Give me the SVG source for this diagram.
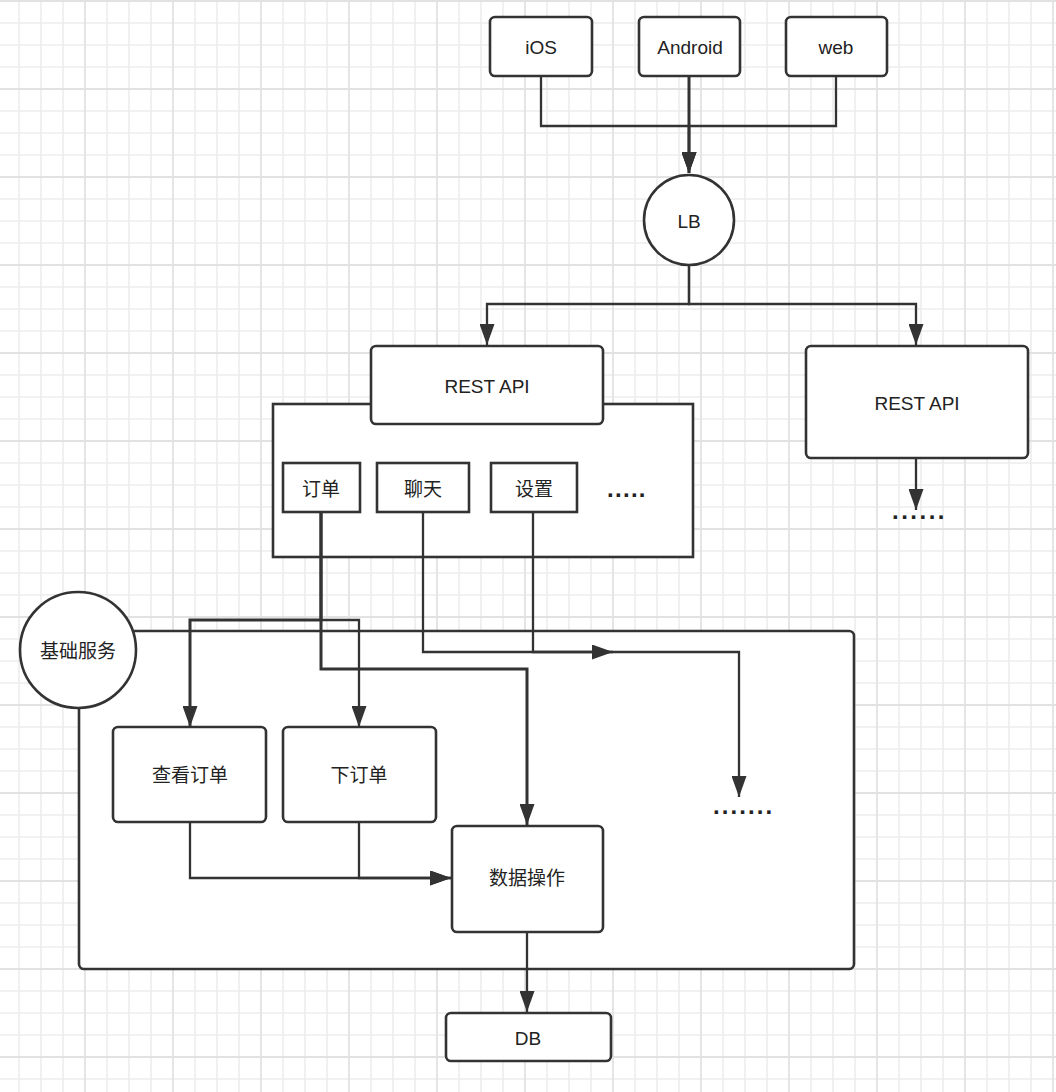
<svg xmlns="http://www.w3.org/2000/svg" width="1056" height="1092" viewBox="0 0 1056 1092">
<style>
.box{fill:#fff;stroke:#333;stroke-width:2.6}
.lbl{font-family:"Liberation Sans","Noto Sans CJK SC",sans-serif;font-size:19px;fill:#222;text-anchor:middle}
.dots{font-family:"Liberation Sans",sans-serif;font-size:24px;font-weight:bold;fill:#222}
.edge{fill:none;stroke:#333;stroke-width:2.3;stroke-linejoin:miter}
.thick{stroke-width:3}
</style>
<defs>
<pattern id="grid" patternUnits="userSpaceOnUse" x="-14" y="-10" width="88" height="88">
<g stroke="#ececec" stroke-width="1.6">
<line x1="33" y1="0" x2="33" y2="88"/><line x1="55" y1="0" x2="55" y2="88"/><line x1="77" y1="0" x2="77" y2="88"/>
<line x1="0" y1="33" x2="88" y2="33"/><line x1="0" y1="55" x2="88" y2="55"/><line x1="0" y1="77" x2="88" y2="77"/>
</g>
<g stroke="#e2e2e2" stroke-width="1.8">
<line x1="11" y1="0" x2="11" y2="88"/><line x1="0" y1="11" x2="88" y2="11"/>
</g>
</pattern>
<marker id="arr" markerUnits="userSpaceOnUse" markerWidth="21" markerHeight="15" refX="21" refY="7.5" orient="auto">
<path d="M0,0 L21,7.5 L0,15 z" fill="#333"/>
</marker>
</defs>
<rect width="1056" height="1092" fill="#fff"/>
<rect width="1056" height="1092" fill="url(#grid)"/>

<g id="api-container"><rect class="box" x="273" y="404" width="420" height="153"/></g>
<g id="service-container"><rect class="box" x="79" y="631" width="775" height="338" rx="5"/></g>

<g id="connectors">
<path class="edge" d="M541,76 V126 H689 V173" marker-end="url(#arr)"/>
<path class="edge" d="M836,76 V126 H689 V173" marker-end="url(#arr)"/>
<path class="edge thick" d="M689,76 V173" marker-end="url(#arr)"/>
<path class="edge" d="M689,265 V304 H487 V345" marker-end="url(#arr)"/>
<path class="edge" d="M689,265 V304 H916 V345" marker-end="url(#arr)"/>
<path class="edge" d="M916,458 V510" marker-end="url(#arr)"/>
<path class="edge thick" d="M321,512 V620 H190 V727" marker-end="url(#arr)"/>
<path class="edge" d="M321,620 H359 V727" marker-end="url(#arr)"/>
<path class="edge thick" d="M321,512 V669 H527 V825" marker-end="url(#arr)"/>
<path class="edge" d="M423,512 V652 H739 V797" marker-end="url(#arr)"/>
<path class="edge" d="M533,512 V652 H613" marker-end="url(#arr)"/>
<path class="edge" d="M190,822 V878 H451" marker-end="url(#arr)"/>
<path class="edge" d="M359,822 V878 H451" marker-end="url(#arr)"/>
<path class="edge" d="M527,932 V1012" marker-end="url(#arr)"/>
</g>

<g id="ios"><rect class="box" x="490" y="17" width="102" height="59" rx="5"/><text class="lbl" x="541" y="54">iOS</text></g>
<g id="android"><rect class="box" x="639" y="17" width="101" height="59" rx="5"/><text class="lbl" x="690" y="54">Android</text></g>
<g id="web"><rect class="box" x="786" y="17" width="101" height="59" rx="5"/><text class="lbl" x="836" y="54">web</text></g>
<g id="lb"><circle class="box" cx="689" cy="220" r="45"/><text class="lbl" x="689" y="228">LB</text></g>
<g id="rest-api-1"><rect class="box" x="371" y="346" width="232" height="78" rx="5"/><text class="lbl" x="487" y="393">REST API</text></g>
<g id="rest-api-2"><rect class="box" x="806" y="346" width="222" height="112" rx="5"/><text class="lbl" x="917" y="410">REST API</text></g>
<g id="dots-right"><text class="dots" x="892" y="519" letter-spacing="2.5">......</text></g>
<g id="order"><rect class="box" x="283" y="463" width="77" height="49"/><text class="lbl" x="321" y="496">订单</text></g>
<g id="chat"><rect class="box" x="377" y="463" width="92" height="49"/><text class="lbl" x="423" y="496">聊天</text></g>
<g id="settings"><rect class="box" x="491" y="463" width="86" height="49"/><text class="lbl" x="534" y="496">设置</text></g>
<g id="dots-api"><text class="dots" x="607" y="497" letter-spacing="1.3">.....</text></g>
<g id="base-service"><circle class="box" cx="78" cy="650" r="58"/><text class="lbl" x="78" y="658">基础服务</text></g>
<g id="view-order"><rect class="box" x="113" y="727" width="153" height="95" rx="5"/><text class="lbl" x="190" y="782">查看订单</text></g>
<g id="place-order"><rect class="box" x="283" y="727" width="153" height="95" rx="5"/><text class="lbl" x="359" y="782">下订单</text></g>
<g id="dots-service"><text class="dots" x="713" y="814" letter-spacing="2.1">.......</text></g>
<g id="data-op"><rect class="box" x="452" y="826" width="151" height="106" rx="5"/><text class="lbl" x="527" y="885">数据操作</text></g>
<g id="db"><rect class="box" x="446" y="1013" width="165" height="48" rx="5"/><text class="lbl" x="528" y="1045">DB</text></g>
</svg>
